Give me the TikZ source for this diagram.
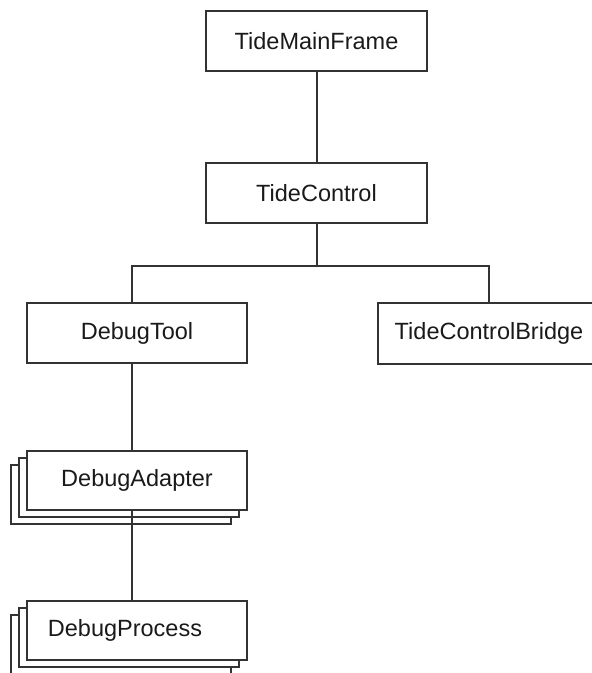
\documentclass[tikz,border=0pt]{standalone}
\usepackage{fontspec}
\setmainfont{Liberation Sans}
\usetikzlibrary{shadows}
\definecolor{edge}{HTML}{333333}
\definecolor{ink}{HTML}{1A1A1A}
\begin{document}
\begin{tikzpicture}[x=1pt, y=-1pt,
  box/.style={draw=edge, line width=1.3pt, fill=white, rectangle,
    inner sep=0pt, minimum width=220pt, minimum height=60pt,
    text=ink, font=\fontsize{23.5}{28}\selectfont},
  stack/.style={box, minimum height=59pt,
    double copy shadow={shadow xshift=-8pt, shadow yshift=-7pt,
      draw=edge, line width=1.3pt, fill=white}},
  link/.style={draw=edge, line width=1.3pt}]
  \useasboundingbox (0,0) rectangle (592,673);
  \clip (0,0) rectangle (592,673);

  % class boxes
  \node[box, minimum width=221pt] (main)    at (316.5,41)  {TideMainFrame};
  \node[box, minimum width=221pt] (ctrl)    at (316.5,193) {TideControl};
  \node[box]                      (tool)    at (137,333)   {DebugTool};
  \node[box, minimum width=222pt, minimum height=61pt]
                                  (bridge)  at (489,333.5) {TideControlBridge};
  \node[stack]                    (adapter) at (137,480.5) {DebugAdapter};
  \node[stack]                    (proc)    at (137,630.5) {\hspace*{-24pt}DebugProcess};

  % tree connectors
  \coordinate (bus) at (317,266);
  \draw[link] ([xshift=0.5pt]main.south) -- ([xshift=0.5pt]ctrl.north);
  \draw[link] ([xshift=0.5pt]ctrl.south) -- (bus);
  \draw[link] (bus) -| ([xshift=-5pt]tool.north);
  \draw[link] (bus) -| (bridge.north);
  \draw[link] ([xshift=-5pt]tool.south) -- ([xshift=-5pt]adapter.north);
  \draw[link] ([xshift=-5pt]adapter.south) -- ([xshift=-5pt]proc.north);
\end{tikzpicture}
\end{document}
